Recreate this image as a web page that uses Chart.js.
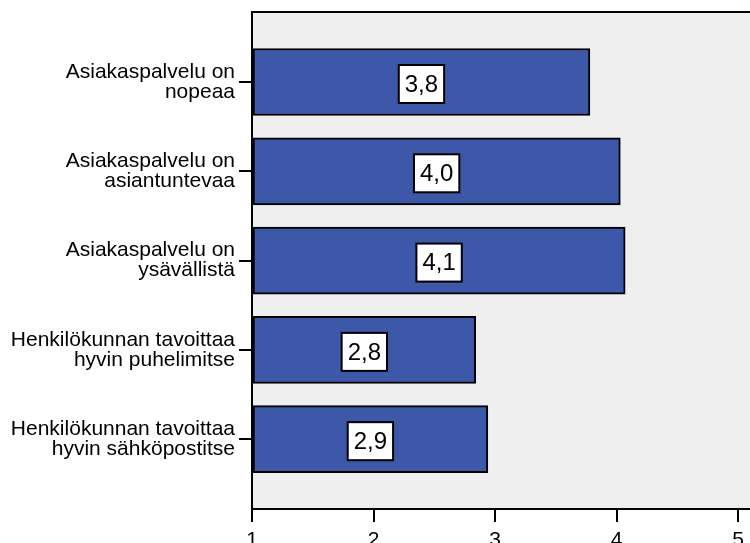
<!DOCTYPE html>
<html>
<head>
<meta charset="utf-8">
<script src="https://cdn.jsdelivr.net/npm/chart.js@4/dist/chart.umd.min.js"></script>
<style>
  html, body { margin: 0; padding: 0; background: #ffffff; overflow: hidden; }
  #wrap { width: 750px; height: 543px; position: relative; }
</style>
</head>
<body>
<div id="wrap"><canvas id="chart"></canvas></div>
<script>
// Survey statements (each label split into two lines)
const categories = [
  ["Asiakaspalvelu on", "nopeaa"],
  ["Asiakaspalvelu on", "asiantuntevaa"],
  ["Asiakaspalvelu on", "ysävällistä"],
  ["Henkilökunnan tavoittaa", "hyvin puhelimitse"],
  ["Henkilökunnan tavoittaa", "hyvin sähköpostitse"]
];
// Mean scores on a 1–5 scale
const means = [3.78, 4.03, 4.07, 2.84, 2.94];
// Value axis tick labels
const xTicks = [1, 2, 3, 4, 5];

const FONT = "'Liberation Sans', Arial, Helvetica, sans-serif";

const fmt = v => v.toFixed(1).replace('.', ',');

// Grey plot background with a black frame
const plotFrame = {
  id: 'plotFrame',
  beforeDraw(chart) {
    const { ctx, chartArea: a } = chart;
    ctx.save();
    ctx.fillStyle = '#efefef';
    ctx.fillRect(a.left, a.top, a.right - a.left, a.bottom - a.top);
    ctx.strokeStyle = '#000';
    ctx.lineWidth = 2;
    ctx.beginPath();
    ctx.moveTo(a.left, a.bottom);
    ctx.lineTo(a.left, a.top);
    ctx.lineTo(a.right + 2, a.top);
    ctx.stroke();
    ctx.restore();
  }
};

// Boxed value labels in the middle of each bar
const valueBoxes = {
  id: 'valueBoxes',
  afterDatasetsDraw(chart) {
    const { ctx } = chart;
    const meta = chart.getDatasetMeta(0);
    ctx.save();
    ctx.font = '24px ' + FONT;
    ctx.textAlign = 'center';
    ctx.textBaseline = 'middle';
    meta.data.forEach((bar, i) => {
      const text = fmt(means[i]);
      const cx = (bar.base + bar.x) / 2;
      const cy = bar.y + 2;
      const w = ctx.measureText(text).width + 12;
      const h = 38;
      ctx.fillStyle = '#ffffff';
      ctx.fillRect(cx - w / 2, cy - h / 2, w, h);
      ctx.strokeStyle = '#000';
      ctx.lineWidth = 2;
      ctx.strokeRect(cx - w / 2, cy - h / 2, w, h);
      ctx.fillStyle = '#000';
      ctx.fillText(text, cx, cy + 1);
    });
    ctx.restore();
  }
};

new Chart(document.getElementById('chart'), {
  type: 'bar',
  data: {
    datasets: [{
      data: means.map((v, i) => ({ x: v, y: i + 1 })),
      base: 1,
      backgroundColor: '#3d58a8',
      borderColor: '#000000',
      borderWidth: 2,
      borderSkipped: false,
      barThickness: 67
    }]
  },
  options: {
    indexAxis: 'y',
    responsive: true,
    maintainAspectRatio: false,
    animation: false,
    layout: { padding: { top: 12, right: 0, left: 0, bottom: 0 } },
    plugins: { legend: { display: false }, tooltip: { enabled: false } },
    scales: {
      x: {
        type: 'linear',
        min: 1,
        max: 5.097,
        afterBuildTicks: s => { s.ticks = xTicks.map(v => ({ value: v })); },
        afterFit: s => { s.height = 34; s.paddingLeft = 0; s.paddingRight = 0; },
        grid: { drawOnChartArea: false, tickLength: 13, color: '#000', lineWidth: 2 },
        border: { display: true, color: '#000', width: 2 },
        ticks: { color: '#000', padding: 6, font: { family: FONT, size: 21 }, maxRotation: 0 }
      },
      y: {
        type: 'linear',
        reverse: true,
        offset: false,
        min: 0.216,
        max: 5.782,
        afterBuildTicks: s => { s.ticks = categories.map((c, i) => ({ value: i + 1 })); },
        afterFit: s => { s.width = 252; s.paddingTop = 0; s.paddingBottom = 0; },
        grid: { offset: false, drawOnChartArea: false, tickLength: 13, color: '#000', lineWidth: 2 },
        border: { display: true, color: '#000', width: 2 },
        ticks: {
          color: '#000',
          padding: 4,
          font: { family: FONT, size: 21, lineHeight: 0.95 },
          callback: v => categories[Math.round(v) - 1] || ''
        }
      }
    }
  },
  plugins: [plotFrame, valueBoxes]
});
</script>
</body>
</html>
